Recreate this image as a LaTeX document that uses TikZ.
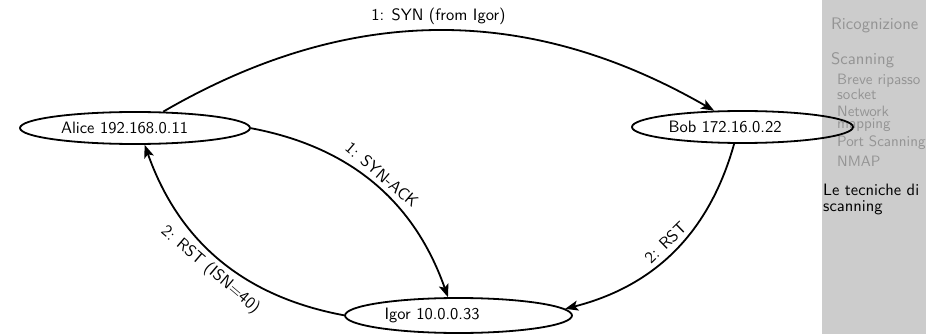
\documentclass[tikz,border=0pt]{standalone}
\usepackage{fontspec}
\setsansfont{lmsans10-regular.otf}
\usetikzlibrary{arrows.meta,shapes.geometric}
\begin{document}
\begin{tikzpicture}[x=1pt,y=-1pt,
  host/.style={draw,ellipse,line width=1.8pt,inner sep=0pt,text width=148pt,align=left,
    font=\sffamily\fontsize{16.5}{20}\selectfont},
  edge/.style={line width=1.8pt,-{Stealth[length=13pt,width=10pt,inset=3pt]}},
  lbl/.style={font=\sffamily\fontsize{16.5}{20}\selectfont,inner sep=5pt},
  sideA/.style={anchor=west,inner sep=0pt,text=black!42,font=\sffamily\fontsize{16.7}{20}\selectfont},
  sideB/.style={anchor=west,inner sep=0pt,text=black!42,font=\sffamily\fontsize{15}{18}\selectfont},
  sideC/.style={anchor=west,inner sep=0pt,text=black,font=\sffamily\fontsize{16.5}{20}\selectfont}]
\useasboundingbox (0,0) rectangle (926,334);
\fill[black!20] (822,0) rectangle (926,334);
\node[sideA] (s1) at (831,25) {Ricognizione};
\node[sideA] (s2) at (831,60) {Scanning};
\node[sideB] (s3) at (837,81) {Breve ripasso};
\node[sideB] (s4) at (837,94) {socket};
\node[sideB] (s5) at (837,111) {Network};
\node[sideB] (s6) at (837,125) {mapping};
\node[sideB] (s7) at (837,143) {Port Scanning};
\node[sideB] (s8) at (837,161) {NMAP};
\node[sideC] (s9) at (823,190) {Le tecniche di};
\node[sideC] (s10) at (823,208) {scanning};
\node[host,minimum width=230pt,minimum height=32pt] (alice) at (135,128) {Alice 192.168.0.11};
\node[host,minimum width=221pt,minimum height=32pt] (bob) at (742.5,127) {Bob 172.16.0.22};
\node[host,minimum width=227pt,minimum height=35pt] (igor) at (458.5,315.5) {Igor 10.0.0.33};
\draw[edge] (alice) to[bend left=30] node[lbl,above] (l1) {1: SYN (from Igor)} (bob);
\draw[edge] (alice) to[bend left=30] node[lbl,above,sloped] (l2) {1: SYN-ACK} (igor);
\draw[edge] (bob) to[bend left=30] node[lbl,above,sloped] (l3) {2: RST} (igor);
\draw[edge] (igor) to[bend left=30] node[lbl,below,sloped] (l4) {2: RST (ISN=40)} (alice);
\end{tikzpicture}
\end{document}
